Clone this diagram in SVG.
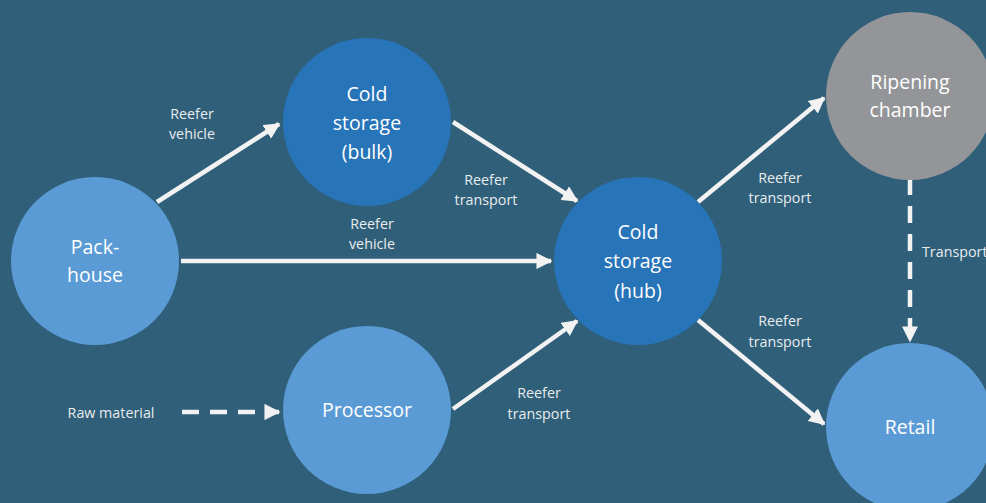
<svg xmlns="http://www.w3.org/2000/svg" width="986" height="503" viewBox="0 0 986 503">
<style>
.light{fill:#5B9BD5}
.dark{fill:#2874B8}
.gray{fill:#939598}
.nt{font-family:"Open Sans","Liberation Sans",sans-serif;font-size:19.5px;fill:#FFFFFF;text-anchor:middle}
.lt{font-family:"Open Sans","Liberation Sans",sans-serif;font-size:14.3px;fill:#E8ECEE;text-anchor:middle}
.conn{stroke:#F2F2F2;stroke-width:4.5;fill:none}
.dash{stroke-dasharray:17 11}
</style>
<defs>
<marker id="ah" viewBox="0 0 10 10" refX="9" refY="5" markerWidth="3.6" markerHeight="3.6" orient="auto" markerUnits="strokeWidth">
<path d="M0,0 L10,5 L0,10 z" fill="#F2F2F2"/>
</marker>
</defs>
<rect width="986" height="503" fill="#2F5F79"/>
<g id="connectors">
<line class="conn" x1="157" y1="202" x2="279" y2="124" marker-end="url(#ah)"/>
<line class="conn" x1="453" y1="122" x2="577" y2="201" marker-end="url(#ah)"/>
<line class="conn" x1="181" y1="261" x2="551" y2="261" marker-end="url(#ah)"/>
<line class="conn" x1="453" y1="409" x2="577" y2="321" marker-end="url(#ah)"/>
<line class="conn" x1="698" y1="202" x2="824" y2="98" marker-end="url(#ah)"/>
<line class="conn" x1="698" y1="320" x2="824" y2="424" marker-end="url(#ah)"/>
<line class="conn dash" x1="910" y1="178" x2="910" y2="341" marker-end="url(#ah)"/>
<line class="conn dash" x1="182" y1="412" x2="279" y2="412" marker-end="url(#ah)"/>
</g>
<g id="packhouse"><circle class="light" cx="95" cy="261" r="84"/><text class="nt" x="95" y="254">Pack-</text><text class="nt" x="95" y="282">house</text></g>
<g id="bulk"><circle class="dark" cx="367" cy="122" r="84"/><text class="nt" x="367" y="101">Cold</text><text class="nt" x="367" y="130">storage</text><text class="nt" x="367" y="159">(bulk)</text></g>
<g id="hub"><circle class="dark" cx="638" cy="261" r="84"/><text class="nt" x="638" y="239">Cold</text><text class="nt" x="638" y="268">storage</text><text class="nt" x="638" y="298">(hub)</text></g>
<g id="processor"><circle class="light" cx="367" cy="410" r="84"/><text class="nt" x="367" y="417">Processor</text></g>
<g id="ripening"><circle class="gray" cx="910" cy="96" r="84"/><text class="nt" x="910" y="89">Ripening</text><text class="nt" x="910" y="117">chamber</text></g>
<g id="retail"><circle class="light" cx="910" cy="427" r="84"/><text class="nt" x="910" y="434">Retail</text></g>
<g id="labels">
<text class="lt" x="192" y="119">Reefer</text><text class="lt" x="192" y="139">vehicle</text>
<text class="lt" x="486" y="185">Reefer</text><text class="lt" x="486" y="205">transport</text>
<text class="lt" x="372" y="229">Reefer</text><text class="lt" x="372" y="249">vehicle</text>
<text class="lt" x="780" y="183">Reefer</text><text class="lt" x="780" y="203">transport</text>
<text class="lt" x="780" y="326">Reefer</text><text class="lt" x="780" y="347">transport</text>
<text class="lt" x="539" y="398">Reefer</text><text class="lt" x="539" y="419">transport</text>
<text class="lt" x="922" y="257" style="text-anchor:start">Transport</text>
<text class="lt" x="111" y="418">Raw material</text>
</g>
</svg>
